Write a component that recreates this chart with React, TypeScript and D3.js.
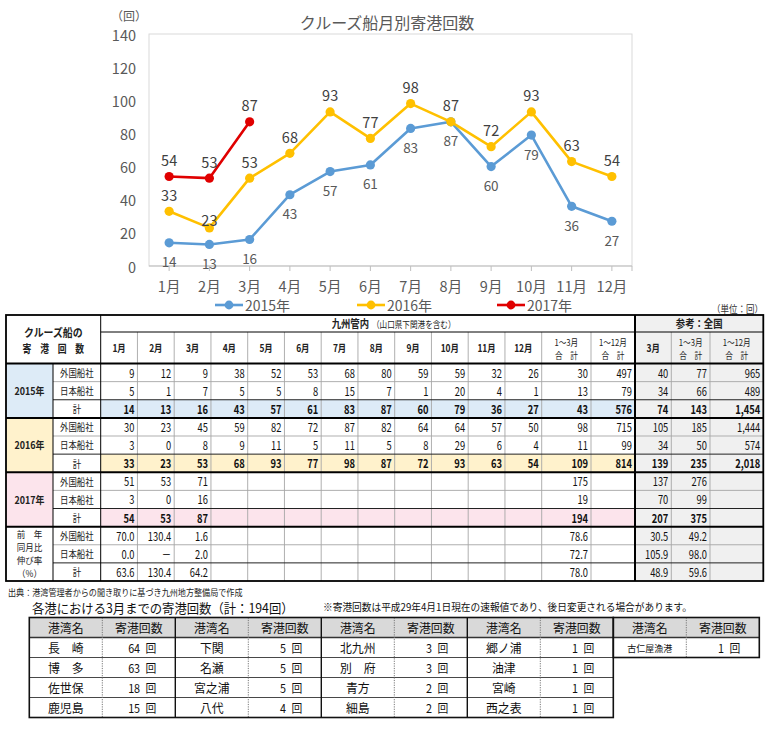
import * as d3 from "d3";

const FONT = "'Noto Sans CJK JP', 'Noto Sans', sans-serif";

// chart data
const months = ["1月", "2月", "3月", "4月", "5月", "6月", "7月", "8月", "9月", "10月", "11月", "12月"];
const seriesNames = ["2015年", "2016年", "2017年"];
const calls2015 = [14, 13, 16, 43, 57, 61, 83, 87, 60, 79, 36, 27];
const calls2016 = [33, 23, 53, 68, 93, 77, 98, 87, 72, 93, 63, 54];
const calls2017 = [54, 53, 87];
const yTicks = [0, 20, 40, 60, 80, 100, 120, 140];

// summary table data (12 months, 1~3月計, 1~12月計, 全国 3月, 1~3月, 1~12月)
const groupLabels = ["2015年", "2016年", "2017年"];
const yoyLabel = ["前　年", "同月比", "伸び率", "（%）"];
const shipTypes = ["外国船社", "日本船社", "計"];
const sumHeaders = ["1～3月|合　計", "1～12月|合　計"];
const refHeaders = ["3月", "1～3月|合　計", "1～12月|合　計"];
const rows2015 = [
  ["9", "12", "9", "38", "52", "53", "68", "80", "59", "59", "32", "26", "30", "497", "40", "77", "965"],
  ["5", "1", "7", "5", "5", "8", "15", "7", "1", "20", "4", "1", "13", "79", "34", "66", "489"],
  ["14", "13", "16", "43", "57", "61", "83", "87", "60", "79", "36", "27", "43", "576", "74", "143", "1,454"]
];
const rows2016 = [
  ["30", "23", "45", "59", "82", "72", "87", "82", "64", "64", "57", "50", "98", "715", "105", "185", "1,444"],
  ["3", "0", "8", "9", "11", "5", "11", "5", "8", "29", "6", "4", "11", "99", "34", "50", "574"],
  ["33", "23", "53", "68", "93", "77", "98", "87", "72", "93", "63", "54", "109", "814", "139", "235", "2,018"]
];
const rows2017 = [
  ["51", "53", "71", "", "", "", "", "", "", "", "", "", "175", "", "137", "276", ""],
  ["3", "0", "16", "", "", "", "", "", "", "", "", "", "19", "", "70", "99", ""],
  ["54", "53", "87", "", "", "", "", "", "", "", "", "", "194", "", "207", "375", ""]
];
const rowsYoY = [
  ["70.0", "130.4", "1.6", "", "", "", "", "", "", "", "", "", "78.6", "", "30.5", "49.2", ""],
  ["0.0", "－", "2.0", "", "", "", "", "", "", "", "", "", "72.7", "", "105.9", "98.0", ""],
  ["63.6", "130.4", "64.2", "", "", "", "", "", "", "", "", "", "78.0", "", "48.9", "59.6", ""]
];

// ports table data
const portNames = [
  ["長　崎", "博　多", "佐世保", "鹿児島"],
  ["下関", "名瀬", "宮之浦", "八代"],
  ["北九州", "別　府", "青方", "細島"],
  ["郷ノ浦", "油津", "宮崎", "西之表"]
];
const portCalls = [
  [64, 63, 18, 15],
  [5, 5, 5, 4],
  [3, 3, 2, 2],
  [1, 1, 1, 1]
];
const extraPortNames = ["古仁屋漁港"];
const extraPortCalls = [1];

const seriesColors = ["#5B9BD5", "#FFC000", "#E00000"];
const groupFills = ["#DDEBF7", "#FFF2CC", "#FCE4EC", "#FFFFFF"];

function Txt({ x, y, size, anchor = "start", weight = 400, fill = "#000", sx = 1, children }: any) {
  return (
    <text
      transform={`translate(${x},${y}) scale(${sx},1)`}
      fontSize={size}
      textAnchor={anchor}
      dominantBaseline="central"
      fontWeight={weight}
      fill={fill}
      fontFamily={FONT}
    >
      {children}
    </text>
  );
}

function LineChart() {
  const x = d3.scaleBand<string>().domain(months).range([149, 632]);
  const cx = (i: number) => (x(months[i]) ?? 0) + x.bandwidth() / 2;
  const y = d3.scaleLinear().domain([0, 140]).range([266, 34]);
  const line = d3
    .line<number>()
    .x((_, i) => cx(i))
    .y((d) => y(d));
  const series = [calls2015, calls2016, calls2017];

  return (
    <g>
      <Txt x={387} y={22} size={16} anchor="middle" fill="#595959">クルーズ船月別寄港回数</Txt>
      <Txt x={129} y={15} size={12} anchor="middle" fill="#595959">（回）</Txt>
      <rect x={149} y={34} width={483} height={232} fill="none" stroke="#d9d9d9" />
      <line x1={149} x2={632} y1={266} y2={266} stroke="#bfbfbf" />
      {months.map((m, i) => (
        <g key={m}>
          <line x1={cx(i)} x2={cx(i)} y1={266} y2={271} stroke="#bfbfbf" />
          <Txt x={cx(i)} y={285} size={14.5} anchor="middle" fill="#595959">{m}</Txt>
        </g>
      ))}
      <line x1={632} x2={632} y1={266} y2={271} stroke="#bfbfbf" />
      {yTicks.map((t) => (
        <Txt key={t} x={136} y={y(t)} size={14.5} anchor="end" fill="#595959">{t}</Txt>
      ))}
      {series.map((s, si) => (
        <g key={si}>
          <path d={line(s) ?? ""} fill="none" stroke={seriesColors[si]} strokeWidth={2.6} strokeLinejoin="round" />
          {s.map((v, i) => (
            <circle key={i} cx={cx(i)} cy={y(v)} r={4.6} fill={seriesColors[si]} />
          ))}
        </g>
      ))}
      {series.map((s, si) =>
        s.map((v, i) => {
          const below = si === 0;
          const dy = below ? 18.5 : si === 1 && i === 1 ? -8 : -17;
          return (
            <Txt
              key={`${si}-${i}`}
              x={cx(i)}
              y={y(v) + dy}
              size={below ? 13.5 : 14.5}
              anchor="middle"
              fill={below ? "#595959" : "#404040"}
            >
              {v}
            </Txt>
          );
        })
      )}
      {seriesNames.map((n, i) => {
        const lx = [215, 357, 497][i];
        return (
          <g key={n}>
            <line x1={lx} x2={lx + 28} y1={305} y2={305} stroke={seriesColors[i]} strokeWidth={2.6} />
            <circle cx={lx + 14} cy={305} r={4.4} fill={seriesColors[i]} />
            <Txt x={lx + 30} y={305} size={14} fill="#595959">{n}</Txt>
          </g>
        );
      })}
    </g>
  );
}

function SummaryTable() {
  const left = 6, yearR = 53, labelR = 100.7, monthsR = 541.7, right = 763.3;
  const top = 315, hdrMid = 332, hdrBot = 363.5, bottom = 581;
  const extraEdges = [monthsR, 591, 635, 671.3, 710, right];
  const refL = 635;
  const monthX = d3.scaleBand<string>().domain(months).range([labelR, monthsR]);
  const colSpan = (j: number): [number, number] =>
    j < 12
      ? [monthX(months[j]) ?? 0, (monthX(months[j]) ?? 0) + monthX.bandwidth()]
      : [extraEdges[j - 12], extraEdges[j - 11]];
  const rowY = d3.scaleBand<number>().domain(d3.range(12)).range([hdrBot, bottom]);
  const rh = rowY.bandwidth();
  const groups = [rows2015, rows2016, rows2017, rowsYoY];
  const allRows = groups.flat();
  const headers = [...months, ...sumHeaders, ...refHeaders];
  const gray = "#a6a6a6";

  return (
    <g>
      <Txt x={763} y={309} size={10} anchor="end" fill="#333" sx={0.85}>（単位：回）</Txt>
      {/* fills */}
      <rect x={refL} y={top} width={right - refL} height={bottom - top} fill="#F0F0F0" />
      {groups.map((_, g) => (
        <g key={g}>
          <rect x={left} y={rowY(g * 3)} width={yearR - left} height={rh * 3} fill={groupFills[g]} />
          {g < 3 ? (
            <rect x={labelR} y={rowY(g * 3 + 2)} width={refL - labelR} height={rh} fill={groupFills[g]} />
          ) : null}
        </g>
      ))}
      {/* thin grid */}
      {headers.map((_, j) =>
        j > 0 && j !== 14 ? (
          <line key={j} x1={colSpan(j)[0]} x2={colSpan(j)[0]} y1={hdrMid} y2={bottom} stroke={gray} strokeWidth={0.9} />
        ) : null
      )}
      {allRows.map((_, r) =>
        r % 3 === 1 ? (
          <line key={r} x1={yearR} x2={right} y1={rowY(r)} y2={rowY(r)} stroke={gray} strokeWidth={0.9} />
        ) : null
      )}
      {allRows.map((_, r) =>
        r % 3 === 2 ? (
          <line key={r} x1={yearR} x2={right} y1={rowY(r)} y2={rowY(r)} stroke="#222" strokeWidth={1} />
        ) : null
      )}
      {/* dark lines */}
      <line x1={labelR} x2={right} y1={hdrMid} y2={hdrMid} stroke="#000" strokeWidth={1} />
      <line x1={yearR} x2={yearR} y1={hdrBot} y2={bottom} stroke="#000" strokeWidth={1} />
      <line x1={labelR} x2={labelR} y1={top} y2={bottom} stroke="#000" strokeWidth={1} />
      <line x1={left} x2={right} y1={hdrBot} y2={hdrBot} stroke="#000" strokeWidth={2} />
      {[3, 6, 9].map((r) => (
        <line key={r} x1={left} x2={right} y1={rowY(r)} y2={rowY(r)} stroke="#000" strokeWidth={2} />
      ))}
      <line x1={refL} x2={refL} y1={top} y2={bottom} stroke="#000" strokeWidth={2} />
      <rect x={left} y={top} width={right - left} height={bottom - top} fill="none" stroke="#000" strokeWidth={1.8} />
      {/* header text */}
      <Txt x={(left + labelR) / 2} y={332.5} size={11} anchor="middle" weight={700} fill="#222" sx={0.9}>クルーズ船の</Txt>
      <Txt x={(left + labelR) / 2} y={348.5} size={11} anchor="middle" weight={700} fill="#222" sx={0.8}>寄　港　回　数</Txt>
      <Txt x={369} y={323.5} size={11} anchor="end" weight={700} fill="#222" sx={0.85}>九州管内</Txt>
      <Txt x={372} y={324} size={9.5} fill="#222" sx={0.8}>（山口県下関港を含む）</Txt>
      <Txt x={(refL + right) / 2} y={323.5} size={11} anchor="middle" weight={700} fill="#222" sx={0.85}>参考：全国</Txt>
      {headers.map((h, j) => {
        const [a, b] = colSpan(j);
        const parts = h.split("|");
        return parts.length === 1 ? (
          <Txt key={j} x={(a + b) / 2} y={348} size={10.5} anchor="middle" weight={700} fill="#222" sx={0.8}>{h}</Txt>
        ) : (
          <g key={j}>
            <Txt x={(a + b) / 2} y={342} size={9} anchor="middle" fill="#222" sx={0.85}>{parts[0]}</Txt>
            <Txt x={(a + b) / 2} y={355} size={9} anchor="middle" fill="#222" sx={0.85}>{parts[1]}</Txt>
          </g>
        );
      })}
      {/* row labels */}
      {groupLabels.map((g, i) => (
        <Txt key={g} x={(left + yearR) / 2} y={(rowY(i * 3) ?? 0) + rh * 1.5} size={10.5} anchor="middle" weight={700} fill="#222" sx={0.85}>{g}</Txt>
      ))}
      {yoyLabel.map((t, i) => (
        <Txt key={t} x={(left + yearR) / 2} y={(rowY(9) ?? 0) + rh * 1.5 + (i - 1.5) * 13} size={9.3} anchor="middle" fill="#222" sx={0.92}>{t}</Txt>
      ))}
      {allRows.map((row, r) => (
        <g key={r}>
          <Txt x={(yearR + labelR) / 2} y={(rowY(r) ?? 0) + rh / 2} size={10.5} anchor="middle" fill="#222" sx={0.8}>{shipTypes[r % 3]}</Txt>
          {row.map((v, j) =>
            v ? (
              <Txt
                key={j}
                x={colSpan(j)[1] - 3}
                y={(rowY(r) ?? 0) + rh / 2}
                size={12}
                anchor="end"
                weight={r % 3 === 2 && r < 9 ? 700 : 400}
                fill="#111"
                sx={0.78}
              >
                {v}
              </Txt>
            ) : null
          )}
        </g>
      ))}
    </g>
  );
}

function PortsTable() {
  const left = 29.3, colW = 73, top = 617.5, rowH = 20;
  const groupX = d3.scaleBand<number>().domain(d3.range(portNames.length)).range([left, left + colW * 2 * portNames.length]);
  const rowY = d3.scaleBand<number>().domain(d3.range(5)).range([top, top + rowH * 5]);
  const right = left + colW * 2 * portNames.length;
  const bottom = top + rowH * 5;
  const exL = right, exR = right + colW * 2, exBottom = top + rowH * (extraPortNames.length + 1);

  const cell = (gx: number, names: string[], calls: number[], key: string) => (
    <g key={key}>
      <Txt x={gx + colW / 2} y={(rowY(0) ?? 0) + rowH / 2} size={12.5} anchor="middle" fill="#111" sx={0.95}>港湾名</Txt>
      <Txt x={gx + colW * 1.5} y={(rowY(0) ?? 0) + rowH / 2} size={12.5} anchor="middle" fill="#111" sx={0.95}>寄港回数</Txt>
      {names.map((n, i) => (
        <g key={n}>
          <Txt x={gx + colW / 2} y={(rowY(i + 1) ?? 0) + rowH / 2} size={n.length > 3 ? 9.5 : 12.5} anchor="middle" fill="#111" sx={0.95}>{n}</Txt>
          <Txt x={gx + colW * 2 - 19} y={(rowY(i + 1) ?? 0) + rowH / 2} size={12} anchor="end" fill="#111" sx={0.9}>{`${calls[i]}\u2002回`}</Txt>
        </g>
      ))}
    </g>
  );

  return (
    <g>
      <rect x={left} y={top} width={right - left} height={rowH} fill="#D9D9D9" />
      <rect x={exL} y={top} width={exR - exL} height={rowH} fill="#D9D9D9" />
      {d3.range(1, 5).map((r) => (
        <line key={r} x1={left} x2={right} y1={rowY(r)} y2={rowY(r)} stroke="#333" strokeWidth={r === 1 ? 1.3 : 0.9} />
      ))}
      <line x1={exL} x2={exR} y1={top + rowH} y2={top + rowH} stroke="#333" strokeWidth={1.3} />
      {portNames.map((_, g) => (
        <line key={g} x1={(groupX(g) ?? 0) + colW} x2={(groupX(g) ?? 0) + colW} y1={top} y2={bottom} stroke="#777" strokeDasharray="1.2,1.2" />
      ))}
      <line x1={exL + colW} x2={exL + colW} y1={top} y2={exBottom} stroke="#777" strokeDasharray="1.2,1.2" />
      {portNames.map((_, g) =>
        g > 0 ? (
          <line key={g} x1={groupX(g)} x2={groupX(g)} y1={top} y2={bottom} stroke="#111" strokeWidth={1.4} />
        ) : null
      )}
      <rect x={left} y={top} width={right - left} height={bottom - top} fill="none" stroke="#111" strokeWidth={1.6} />
      <rect x={exL} y={top} width={exR - exL} height={exBottom - top} fill="none" stroke="#111" strokeWidth={1.6} />
      {portNames.map((names, g) => cell(groupX(g) ?? 0, names, portCalls[g], `g${g}`))}
      {cell(exL, extraPortNames, extraPortCalls, "extra")}
    </g>
  );
}

export default function App() {
  return (
    <svg
      width={771}
      height={738}
      style={{ position: "absolute", left: 0, top: 0, background: "#fff" }}
    >
      <rect width={771} height={738} fill="#fff" />
      <LineChart />
      <SummaryTable />
      <Txt x={8} y={592} size={9} fill="#222" sx={0.9}>出典：港湾管理者からの聞き取りに基づき九州地方整備局で作成</Txt>
      <Txt x={32} y={607} size={13} fill="#111" sx={0.95}>各港における3月までの寄港回数（計：194回）</Txt>
      <Txt x={323} y={607} size={10} fill="#111" sx={0.97}>※寄港回数は平成29年4月1日現在の速報値であり、後日変更される場合があります。</Txt>
      <PortsTable />
    </svg>
  );
}
